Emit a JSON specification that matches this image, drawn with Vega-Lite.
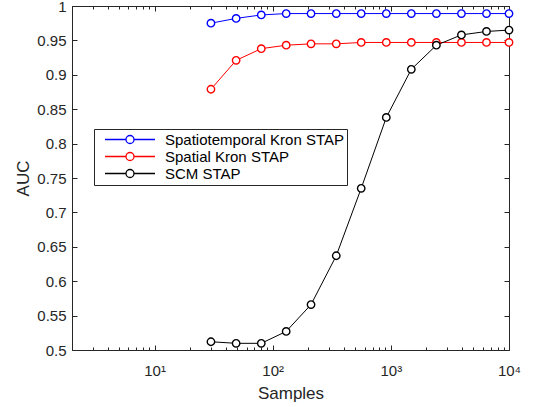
{
  "$schema": "https://vega.github.io/schema/vega-lite/v6.json",
  "width": 437,
  "height": 344,
  "autosize": "none",
  "padding": {"left": 72, "top": 6, "right": 25, "bottom": 57},
  "background": "white",
  "config": {
    "view": {"stroke": null},
    "font": "Liberation Sans",
    "axis": {"grid": false, "domainColor": "#262626", "domainWidth": 1, "tickColor": "#262626", "tickWidth": 1, "labelColor": "#262626", "titleColor": "#262626", "labelFont": "Liberation Sans", "titleFont": "Liberation Sans", "labelFontSize": 15, "titleFontSize": 17, "titleFontWeight": "normal"}
  },
  "data": {"values": [
    {"method": "Spatiotemporal Kron STAP", "samples": 30, "auc": 0.975},
    {"method": "Spatiotemporal Kron STAP", "samples": 49, "auc": 0.982},
    {"method": "Spatiotemporal Kron STAP", "samples": 80, "auc": 0.987},
    {"method": "Spatiotemporal Kron STAP", "samples": 130, "auc": 0.989},
    {"method": "Spatiotemporal Kron STAP", "samples": 211, "auc": 0.989},
    {"method": "Spatiotemporal Kron STAP", "samples": 345, "auc": 0.989},
    {"method": "Spatiotemporal Kron STAP", "samples": 561, "auc": 0.989},
    {"method": "Spatiotemporal Kron STAP", "samples": 915, "auc": 0.989},
    {"method": "Spatiotemporal Kron STAP", "samples": 1490, "auc": 0.989},
    {"method": "Spatiotemporal Kron STAP", "samples": 2428, "auc": 0.989},
    {"method": "Spatiotemporal Kron STAP", "samples": 3957, "auc": 0.989},
    {"method": "Spatiotemporal Kron STAP", "samples": 6447, "auc": 0.989},
    {"method": "Spatiotemporal Kron STAP", "samples": 10000, "auc": 0.989},
    {"method": "Spatial Kron STAP", "samples": 30, "auc": 0.879},
    {"method": "Spatial Kron STAP", "samples": 49, "auc": 0.921},
    {"method": "Spatial Kron STAP", "samples": 80, "auc": 0.938},
    {"method": "Spatial Kron STAP", "samples": 130, "auc": 0.943},
    {"method": "Spatial Kron STAP", "samples": 211, "auc": 0.945},
    {"method": "Spatial Kron STAP", "samples": 345, "auc": 0.945},
    {"method": "Spatial Kron STAP", "samples": 561, "auc": 0.947},
    {"method": "Spatial Kron STAP", "samples": 915, "auc": 0.947},
    {"method": "Spatial Kron STAP", "samples": 1490, "auc": 0.947},
    {"method": "Spatial Kron STAP", "samples": 2428, "auc": 0.947},
    {"method": "Spatial Kron STAP", "samples": 3957, "auc": 0.947},
    {"method": "Spatial Kron STAP", "samples": 6447, "auc": 0.947},
    {"method": "Spatial Kron STAP", "samples": 10000, "auc": 0.947},
    {"method": "SCM STAP", "samples": 30, "auc": 0.512},
    {"method": "SCM STAP", "samples": 49, "auc": 0.5097},
    {"method": "SCM STAP", "samples": 80, "auc": 0.5097},
    {"method": "SCM STAP", "samples": 130, "auc": 0.527},
    {"method": "SCM STAP", "samples": 211, "auc": 0.566},
    {"method": "SCM STAP", "samples": 345, "auc": 0.637},
    {"method": "SCM STAP", "samples": 561, "auc": 0.735},
    {"method": "SCM STAP", "samples": 915, "auc": 0.838},
    {"method": "SCM STAP", "samples": 1490, "auc": 0.908},
    {"method": "SCM STAP", "samples": 2428, "auc": 0.943},
    {"method": "SCM STAP", "samples": 3957, "auc": 0.958},
    {"method": "SCM STAP", "samples": 6447, "auc": 0.963},
    {"method": "SCM STAP", "samples": 10000, "auc": 0.965}
  ]},
  "layer": [
    {
      "mark": {"type": "line", "strokeWidth": 1},
      "encoding": {
        "x": {"field": "samples", "type": "quantitative", "scale": {"type": "log", "domain": [2, 10000], "nice": false},
          "axis": {"orient": "bottom", "title": "Samples", "titlePadding": 5,
            "values": [2,3,4,5,6,7,8,9,10,20,30,40,50,60,70,80,90,100,200,300,400,500,600,700,800,900,1000,2000,3000,4000,5000,6000,7000,8000,9000,10000],
            "labelExpr": "datum.value == 10 ? '10¹' : datum.value == 100 ? '10²' : datum.value == 1000 ? '10³' : datum.value == 10000 ? '10⁴' : ''",
            "labelFlush": false, "labelOverlap": false, "labelPadding": 18,
            "tickSize": {"condition": {"test": "indexof([10,100,1000,10000], datum.value) >= 0", "value": -5}, "value": -3}}},
        "y": {"field": "auc", "type": "quantitative", "scale": {"domain": [0.5, 1], "nice": false, "zero": false},
          "axis": {"orient": "left", "title": "AUC", "values": [0.5,0.55,0.6,0.65,0.7,0.75,0.8,0.85,0.9,0.95,1], "format": "~g", "tickSize": -5, "labelPadding": 11, "labelFlush": false, "labelOverlap": false}},
        "color": {"field": "method", "type": "nominal",
          "scale": {"domain": ["Spatiotemporal Kron STAP", "Spatial Kron STAP", "SCM STAP"], "range": ["#0000ff", "#ff0000", "#000000"]},
          "legend": {"orient": "none", "legendX": 22, "legendY": 123, "title": null,
            "symbolType": "M-1,0H-0.16M0.16,0H1M0.16,0A0.16,0.16,0,1,1,-0.16,0A0.16,0.16,0,1,1,0.16,0Z",
            "symbolSize": 2500, "symbolStrokeWidth": 1.3, "symbolFillColor": "white",
            "strokeColor": "#262626", "fillColor": "white", "padding": 3,
            "labelFont": "Liberation Sans", "labelFontSize": 15, "labelColor": "black", "labelLimit": 400,
            "clipHeight": 15, "rowPadding": 1, "symbolOffset": 7, "labelOffset": 9}}
      }
    },
    {
      "mark": {"type": "point", "shape": "circle", "filled": false, "fill": "white", "fillOpacity": 1, "size": 55, "strokeWidth": 1.4, "opacity": 1},
      "encoding": {
        "x": {"field": "samples", "type": "quantitative",
          "axis": {"orient": "top", "title": null, "labels": false,
            "values": [2,3,4,5,6,7,8,9,10,20,30,40,50,60,70,80,90,100,200,300,400,500,600,700,800,900,1000,2000,3000,4000,5000,6000,7000,8000,9000,10000],
            "tickSize": {"condition": {"test": "indexof([10,100,1000,10000], datum.value) >= 0", "value": -5}, "value": -3}}},
        "y": {"field": "auc", "type": "quantitative",
          "axis": {"orient": "right", "title": null, "labels": false, "values": [0.5,0.55,0.6,0.65,0.7,0.75,0.8,0.85,0.9,0.95,1], "tickSize": -5}},
        "color": {"field": "method", "type": "nominal"}
      }
    }
  ],
  "resolve": {"axis": {"x": "independent", "y": "independent"}}
}
